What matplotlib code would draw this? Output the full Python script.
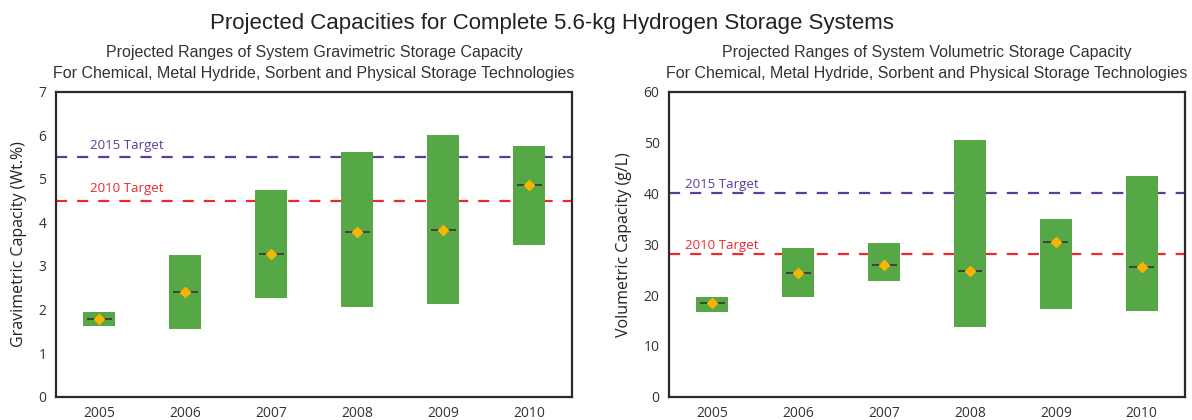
import numpy as np
import matplotlib
matplotlib.use('Agg')
import matplotlib.pyplot as plt

years = ['2005', '2006', '2007', '2008', '2009', '2010']

# gravimetric capacity (wt.%): low / high of range, projected mid value
grav_low = [1.62, 1.55, 2.27, 2.06, 2.13, 3.48]
grav_high = [1.95, 3.25, 4.75, 5.62, 6.01, 5.76]
grav_mid = [1.79, 2.41, 3.28, 3.78, 3.82, 4.85]

# volumetric capacity (g/L)
vol_low = [16.7, 19.7, 22.8, 13.8, 17.3, 16.9]
vol_high = [19.6, 29.3, 30.3, 50.4, 35.0, 43.5]
vol_mid = [18.4, 24.4, 25.9, 24.7, 30.5, 25.6]

grav_targets = [5.5, 4.5]
vol_targets = [40, 28]
target_labels = ['2015 Target', '2010 Target']
target_colors = ['#5e3b98', '#ec2a2e']

green = '#55a845'
gold = '#f7b500'
tick_font = 'Open Sans'
title_font = 'Liberation Sans'


def draw_panel(ax, low, high, mid, targets, ymax, ylabel, label_x, label_dy):
    x = np.arange(len(years))
    low = np.array(low)
    high = np.array(high)
    ax.bar(x, high - low, bottom=low, width=0.37, color=green, zorder=2)
    ax.hlines(mid, x - 0.145, x + 0.145, color='#3d3d3d', lw=1.3, zorder=3)
    ax.plot(x, mid, 'D', ms=5.5, color=gold, mec=gold, zorder=4)

    for t, lab, c in zip(targets, target_labels, target_colors):
        ax.axhline(t, color=c, lw=1.6, ls=(0, (5, 4.5)), zorder=1)
        ax.text(label_x, t + label_dy, lab, color=c, fontsize=9.5,
                family=tick_font, ha='left', va='bottom', zorder=5)

    ax.set_xlim(-0.5, 5.5)
    ax.set_ylim(0, ymax)
    ax.set_xticks(x)
    ax.set_xticklabels(years)
    ax.tick_params(length=0, labelsize=10, colors='#333333', pad=7)
    for lab in ax.get_xticklabels() + ax.get_yticklabels():
        lab.set_family(tick_font)
    for s in ax.spines.values():
        s.set_color('#2a2a2a')
        s.set_linewidth(1.6)
    ax.set_ylabel(ylabel, fontsize=11.5, family=tick_font, color='#222222', labelpad=8)


fig = plt.figure(figsize=(11.92, 4.2), dpi=100)
ax1 = fig.add_axes([0.047, 0.0555, 0.433, 0.7262])
ax2 = fig.add_axes([0.5615, 0.0555, 0.4324, 0.7262])

draw_panel(ax1, grav_low, grav_high, grav_mid, grav_targets, 7,
           'Gravimetric Capacity (Wt.%)', -0.1, 0.12)
draw_panel(ax2, vol_low, vol_high, vol_mid, vol_targets, 60,
           'Volumetric Capacity (g/L)', -0.32, 0.4)
ax1.set_yticks(range(0, 8))
ax2.set_yticks(range(0, 61, 10))

fig.text(0.463, 0.945, 'Projected Capacities for Complete 5.6-kg Hydrogen Storage Systems',
         ha='center', va='center', fontsize=16, family=title_font, color='#222222')
ax1.set_title('Projected Ranges of System Gravimetric Storage Capacity\n'
              'For Chemical, Metal Hydride, Sorbent and Physical Storage Technologies',
              fontsize=11.5, family=title_font, color='#333333', pad=10, linespacing=1.5)
ax2.set_title('Projected Ranges of System Volumetric Storage Capacity\n'
              'For Chemical, Metal Hydride, Sorbent and Physical Storage Technologies',
              fontsize=11.5, family=title_font, color='#333333', pad=10, linespacing=1.5)

plt.savefig('out.png', dpi=100)
